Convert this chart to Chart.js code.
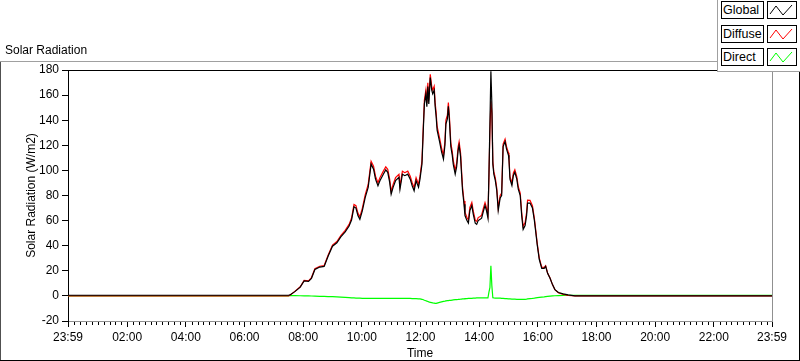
<!DOCTYPE html>
<html>
<head>
<meta charset="utf-8">
<script src="https://cdn.jsdelivr.net/npm/chart.js@4.4.1/dist/chart.umd.min.js"></script>
<style>
  html, body { margin: 0; padding: 0; background: #ffffff; }
  #wrap { position: relative; width: 800px; height: 361px; overflow: hidden; font-family: 'Liberation Sans', Arial, sans-serif; }
  #c { position: absolute; left: 0; top: 0; }
  #title { position: absolute; left: 5px; top: 43px; font-size: 12px; color: #000; white-space: nowrap; }
  #legend { position: absolute; left: 717px; top: 0; width: 83px; height: 71px; background: #fff;
            border-left: 1px solid #a0a0a0; border-bottom: 1px solid #a0a0a0; }
  .lab { position: absolute; left: 3px; width: 40px; height: 16px; border: 1px solid #000; font-size: 12.5px;
         line-height: 16px; padding-left: 1px; color: #000; white-space: nowrap; }
  .sw { position: absolute; left: 49px; width: 28px; height: 16px; border: 1px solid #000; }
  .sw svg { position: absolute; left: 0; top: 0; }
</style>
</head>
<body>
<div id="wrap">
  <canvas id="c" width="800" height="361"></canvas>
  <div id="title">Solar Radiation</div>
  <div id="legend"></div>
</div>
<script>
// ---- data (minutes since midnight; -1 = 23:59 of previous day) ----
const seriesNames = ['Global', 'Diffuse', 'Direct'];
const seriesColors = ['#000000', '#ff0000', '#00ff00'];

const minutes = [
  -1,450,453,463,474,482,491,497,504,514,
  523,531,540,549,557,566,574,579,584,588,
  592,596,601,607,613,619,624,628,633,637,
  644,649,653,657,660,664,669,676,678,683,
  688,694,699,703,707,711,716,719,723,726,
  728,731,733,735,737,740,743,745,748,750,
  752,754,759,763,767,770,772,775,777,779,
  782,785,787,791,794,797,799,802,804,806,
  809,811,815,818,821,825,828,832,835,838,
  842,845,849,852,855,858,860,862,864,866,
  868,870,873,876,879,883,886,889,893,896,
  900,901,903,907,910,913,917,920,924,927,
  930,934,937,939,944,949,953,956,959,963,
  968,973,976,980,985,990,995,1002,1012,1022,
  1036,1439
];

const globalVals = [
  0.5,0.5,0.8,3.4,7,12,11.5,14,21,23,
  23.5,31.6,39.6,42.3,47,51,55.7,60.5,71,70,
  64,61,67.7,78.5,86.5,105,101,93,87.8,91.8,
  97,100.4,98.5,90.5,81,86.5,91.8,94.5,85,97,
  95.8,97,93,87.8,83.8,91.8,86.5,93,105,134.7,
  153,161,150.7,166.8,153,174,164,161,164,151,
  143,132,123,115,109,120,137,141,151,141,
  119,112,105,97,103,116,120,111,97,84,
  73,64,60,58,68,72,65,58,57,60,
  61,62,68,72,68,62,97,137,179,153,
  105,97,92,84,68,78,80,119,123,117,
  112,108,93,88,96,98.5,93,85,80,64,
  53,56,64,74,74,70,60,50,40,29,
  22,22,23.5,18,14,9,5,2.7,1.6,0.8,
  0,0
];

const diffuseVals = [
  0,0,0.5,3.6,7.3,12.4,12,14.6,21.6,23.6,
  24.2,32.4,40.5,43.3,48.1,52.2,57,62,72.8,71.9,
  66,63,69.8,80.7,88.8,107.3,103.4,95.4,90.2,94.2,
  99.4,102.8,100.9,92.9,83.4,88.9,94.2,96.9,87.4,99.4,
  98.2,99.4,95.4,90.2,86.2,94.2,88.9,95.4,107.5,137.5,
  156,164,153.7,169.8,156,176.5,167,164,167,154,
  146,135,126,118,112,123,140,144,154,144,
  122,115,108,100,105.8,118.8,122.8,113.8,99.8,86.8,
  75.6,66.6,62.5,60.5,70.5,74.5,67.5,60.4,59.4,62.4,
  63.3,64.3,70.3,74.3,70.3,64.3,94.5,131,155,146,
  107,99,94,86,70,80,82,121,125,119,
  114,110,95,90,98,100.5,95,87,82,66.5,
  55.5,58.4,66.3,76.3,76.1,71.8,61.7,51.5,41.3,30,
  22.9,22.7,24,18.3,14.2,9,4.9,2.5,1.2,0.3,
  0,0
];

const directVals = [
  0,0,0.3,0.2,0.1,0,0,-0.1,-0.2,-0.3,
  -0.4,-0.5,-0.6,-0.7,-0.9,-1.1,-1.3,-1.5,-1.6,-1.7,
  -1.8,-1.8,-1.9,-1.9,-1.9,-1.9,-1.9,-1.9,-1.9,-1.9,
  -1.9,-1.9,-2,-2,-2,-2,-2,-2,-2,-2,
  -2,-2,-2,-2.1,-2.1,-2.2,-2.3,-2.4,-2.7,-3.1,
  -3.5,-3.9,-4.2,-4.5,-4.8,-5.1,-5.4,-5.6,-5.8,-6,
  -5.9,-5.7,-5.2,-4.8,-4.4,-4.2,-4,-3.8,-3.7,-3.6,
  -3.5,-3.3,-3.2,-3,-2.9,-2.8,-2.7,-2.6,-2.5,-2.4,
  -2.3,-2.2,-2.1,-2,-1.9,-1.9,-1.8,-1.7,-1.6,-1.6,
  -1.5,-1.5,-1.5,-1.5,-1.5,-1.5,3,6.5,24,8,
  -1.5,-1.6,-1.7,-1.8,-1.8,-1.8,-1.9,-2,-2.1,-2.2,
  -2.3,-2.3,-2.4,-2.5,-2.6,-2.6,-2.7,-2.7,-2.8,-2.8,
  -2.8,-2.7,-2.6,-2.4,-2.2,-2,-1.8,-1.6,-1.4,-1.2,
  -1,-0.8,-0.6,-0.4,-0.2,0,0.1,0.2,0.4,0.5,
  0.5,0.5
];

// x tick positions (minutes) and y range
const xTickMinutes = [-1,120,240,360,480,600,720,840,960,1080,1200,1320,1439];
const yTicks = [-20,0,20,40,60,80,100,120,140,160,180];
const minorTickStep = 12;

// ---- helpers ----
function fmtTime(m) {
  const v = ((Math.round(m) % 1440) + 1440) % 1440;
  const h = Math.floor(v / 60), mm = v % 60;
  return String(h).padStart(2, '0') + ':' + String(mm).padStart(2, '0');
}
function pts(vals) { return minutes.map((m, i) => ({ x: m, y: vals[i] })); }

const FONT = "'Liberation Sans', Arial, sans-serif";

// ---- legend (HTML) ----
const legend = document.getElementById('legend');
const rowTops = [1, 25, 48];
seriesNames.forEach((name, i) => {
  const lab = document.createElement('div');
  lab.className = 'lab'; lab.style.top = rowTops[i] + 'px'; lab.textContent = name;
  legend.appendChild(lab);
  const sw = document.createElement('div');
  sw.className = 'sw'; sw.style.top = rowTops[i] + 'px';
  sw.innerHTML = '<svg width="28" height="16"><polyline points="2,12 8,4 15,13 24,3" fill="none" stroke="' +
    seriesColors[i] + '" stroke-width="1"/></svg>';
  legend.appendChild(sw);
});

// ---- frame / minor tick plugin ----
const framePlugin = {
  id: 'frame',
  beforeDraw(chart) {
    const c = chart.ctx;
    c.save();
    c.fillStyle = '#ffffff';
    c.fillRect(0, 0, chart.width, chart.height);
    c.lineWidth = 1;
    c.strokeStyle = '#a0a0a0';
    c.beginPath(); c.moveTo(0, 61.5); c.lineTo(800, 61.5); c.stroke();
    c.strokeStyle = '#505050';
    c.beginPath(); c.moveTo(0.5, 62); c.lineTo(0.5, 361); c.stroke();
    c.strokeStyle = '#000000';
    c.beginPath(); c.moveTo(0, 360.5); c.lineTo(800, 360.5); c.stroke();
    c.beginPath(); c.moveTo(799.5, 62); c.lineTo(799.5, 361); c.stroke();
    c.restore();
  },
  afterDraw(chart) {
    const c = chart.ctx, a = chart.chartArea, xs = chart.scales.x;
    c.save();
    c.lineWidth = 1;
    c.strokeStyle = '#000000';
    c.beginPath(); c.moveTo(a.left, a.top + 0.5); c.lineTo(a.right, a.top + 0.5); c.stroke();
    c.strokeStyle = '#909090';
    c.beginPath(); c.moveTo(a.right + 0.5, a.top); c.lineTo(a.right + 0.5, a.bottom); c.stroke();
    c.strokeStyle = '#000000';
    for (let m = 0; m < 1440; m += minorTickStep) {
      if (m % 120 === 0 && m !== 0) continue;
      const px = Math.round(xs.getPixelForValue(m)) + 0.5;
      c.beginPath(); c.moveTo(px, a.bottom + 1); c.lineTo(px, a.bottom + 4); c.stroke();
    }
    c.restore();
  }
};

const mk = (i, data) => ({
  label: seriesNames[i], data, borderColor: seriesColors[i], backgroundColor: seriesColors[i],
  borderWidth: 1.2, pointRadius: 0, tension: 0, fill: false, order: i
});

new Chart(document.getElementById('c'), {
  type: 'line',
  data: { datasets: [mk(0, pts(globalVals)), mk(1, pts(diffuseVals)), mk(2, pts(directVals))] },
  options: {
    responsive: false, animation: false, devicePixelRatio: 1,
    layout: { padding: { top: 70, right: 28, left: 0, bottom: 0 } },
    plugins: { legend: { display: false }, tooltip: { enabled: false } },
    scales: {
      x: {
        type: 'linear', min: -1, max: 1439,
        afterBuildTicks: s => { s.ticks = xTickMinutes.map(v => ({ value: v })); },
        afterFit: s => { s.height = 40; },
        ticks: { callback: v => fmtTime(v), maxRotation: 0, minRotation: 0, autoSkip: false,
                 color: '#000', font: { family: FONT, size: 12 }, padding: 3 },
        grid: { drawOnChartArea: false, drawTicks: true, tickLength: 6, color: '#000' },
        border: { display: true, color: '#909090' },
        title: { display: true, text: 'Time', color: '#000', font: { family: FONT, size: 12 },
                 padding: { top: 0, bottom: 0 } }
      },
      y: {
        min: -20, max: 180,
        afterBuildTicks: s => { s.ticks = yTicks.map(v => ({ value: v })); },
        afterFit: s => { s.width = 68; },
        ticks: { color: '#000', font: { family: FONT, size: 12 }, padding: 3 },
        grid: { drawOnChartArea: false, drawTicks: true, tickLength: 6, color: '#000' },
        border: { display: true, color: '#000' },
        title: { display: true, text: 'Solar Radiation (W/m2)', color: '#000',
                 font: { family: FONT, size: 12 }, padding: { top: 24, bottom: 0 } }
      }
    }
  },
  plugins: [framePlugin]
});
</script>
</body>
</html>
